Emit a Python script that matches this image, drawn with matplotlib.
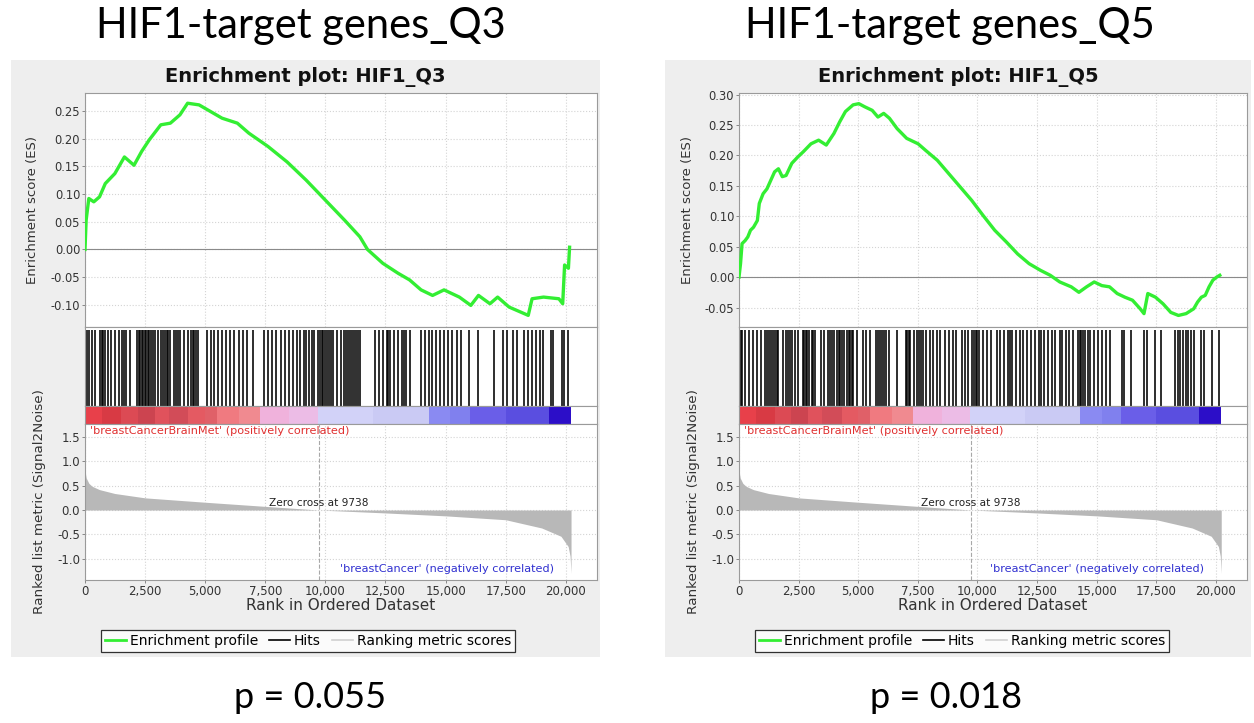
import numpy as np
import matplotlib.pyplot as plt
from matplotlib.lines import Line2D
from matplotlib.patches import Rectangle
from matplotlib.ticker import FuncFormatter

W, H = 1254, 723

# ---------------- data ----------------
titles = ["HIF1-target genes_Q3", "HIF1-target genes_Q5"]
plot_names = ["Enrichment plot: HIF1_Q3", "Enrichment plot: HIF1_Q5"]
p_labels = ["p = 0.055", "p = 0.018"]

q3_es_rank = [0, 48, 159, 366, 605, 844, 1242, 1640, 2038, 2357,
              2675, 3153, 3551, 3949, 4268, 4745, 5223, 5701, 6338, 6815,
              7611, 8408, 9204, 10000, 10796, 11433, 11752, 12389, 13025, 13503,
              13981, 14459, 14936, 15573, 16051, 16369, 16847, 17166, 17643, 18121,
              18439, 18599, 19076, 19713, 19873, 19952, 20111, 20159]
q3_es = [0, 0.053, 0.092, 0.086, 0.095, 0.119, 0.137, 0.167, 0.152, 0.177,
         0.198, 0.225, 0.228, 0.243, 0.264, 0.261, 0.249, 0.237, 0.228, 0.210,
         0.186, 0.158, 0.125, 0.089, 0.053, 0.023, 0.0, -0.025, -0.043, -0.055,
         -0.073, -0.083, -0.073, -0.086, -0.101, -0.083, -0.098, -0.086, -0.104, -0.113,
         -0.119, -0.089, -0.086, -0.089, -0.098, -0.028, -0.034, 0.004]

q5_es_rank = [0, 64, 128, 257, 369, 482, 610, 770, 851, 1011,
              1172, 1332, 1493, 1653, 1814, 1974, 2215, 2456, 2696, 3017,
              3338, 3659, 3980, 4221, 4462, 4783, 5024, 5264, 5585, 5826,
              6067, 6308, 6629, 7030, 7511, 7832, 8314, 8795, 9277, 9758,
              10240, 10721, 11203, 11684, 12166, 12647, 13049, 13450, 13931, 14252,
              14573, 14894, 15215, 15536, 15857, 16178, 16499, 16820, 16981, 17141,
              17462, 17783, 18104, 18425, 18746, 19067, 19228, 19388, 19549, 19709,
              19870, 20030, 20159]
q5_es = [0, 0.022, 0.055, 0.060, 0.066, 0.077, 0.082, 0.093, 0.121, 0.137,
         0.145, 0.159, 0.173, 0.178, 0.165, 0.167, 0.187, 0.197, 0.206, 0.219,
         0.225, 0.217, 0.236, 0.255, 0.272, 0.283, 0.285, 0.280, 0.274, 0.263,
         0.269, 0.261, 0.244, 0.228, 0.219, 0.208, 0.192, 0.170, 0.148, 0.126,
         0.101, 0.077, 0.058, 0.038, 0.022, 0.011, 0.003, -0.008, -0.016, -0.025,
         -0.016, -0.008, -0.014, -0.016, -0.027, -0.033, -0.038, -0.052, -0.060, -0.027,
         -0.033, -0.044, -0.058, -0.063, -0.060, -0.052, -0.041, -0.033, -0.030, -0.016,
         -0.005, 0.0, 0.003]

q3_hits = [0, 80, 159, 287, 414, 637, 700, 764, 844, 971, 1083, 1242, 1401, 1560,
           1640, 1719, 1879,
           2165, 2229, 2292, 2356, 2420, 2484, 2547, 2611, 2675, 2754, 2834, 2913,
           3025, 3152, 3232, 3311, 3391, 3471, 3550, 3709, 3789, 3868, 3948, 4107,
           4267, 4394, 4474, 4553, 4633, 4712,
           5063, 5222, 5381, 5540, 5699, 5859, 6018, 6209, 6416, 6575, 6734, 6973,
           7451, 7610, 7769, 7928, 8167, 8326, 8485, 8645, 8804, 8963, 9122,
           9202, 9313, 9440, 9520, 9679, 9759, 9839, 9918, 9998, 10077, 10157,
           10237, 10316, 10475, 10635, 10794, 10873, 10953, 11032, 11112, 11192,
           11271, 11351, 11430,
           12067, 12226, 12386, 12545, 12625, 12704, 12863, 13022, 13182, 13261,
           13341, 13500,
           13978, 14137, 14296, 14455, 14615, 14774, 14933, 15092, 15251, 15490,
           15649, 15968, 16366,
           17003, 17401, 17560, 17799, 17958, 18276, 18435, 18595, 18754, 18913,
           19072, 19390, 19470, 19836, 19947, 20106]

q5_hits = [0, 64, 128, 257, 417, 578, 738, 931, 1091, 1172, 1252, 1332, 1445,
           1509, 1573, 1653, 1862, 1974, 2054, 2135, 2215, 2343, 2456, 2664, 2729,
           2793, 2857, 2937, 3050, 3114, 3178, 3419, 3579, 3740, 3820, 3900, 3980,
           4109, 4173, 4237, 4301, 4382, 4542, 4606, 4671, 4735, 4783, 4943, 5184,
           5345, 5505, 5746, 5826, 5906, 5986, 6067, 6147, 6308, 6629,
           6998, 7062, 7126, 7190, 7351, 7479, 7544, 7624, 7704, 7832, 7993, 8153,
           8282, 8442, 8635, 8795, 8956, 9116, 9357, 9470, 9598, 9758, 9839, 9919,
           9999, 10079, 10240, 10400, 10561, 10802, 10962, 11123, 11283, 11363,
           11444, 11604, 11765, 11925, 12086, 12246, 12407, 12567, 12647, 12808,
           12968, 13129, 13257, 13450, 13530, 13691, 13851, 14012, 14220, 14285,
           14349, 14413, 14493, 14654, 14734, 14894, 15055, 15215, 15376, 15536,
           16050, 16146, 16419, 16981, 17109, 17430, 17703,
           18297, 18393, 18505, 18618, 18746, 18827, 18939, 19067, 19388, 19517,
           19838, 20111]

# ranked list metric (same data set for both plots)
metric_rank = [0, 20, 50, 160, 290, 600, 1240, 2500, 5000, 7500, 9738,
               12500, 15000, 17500, 19000, 19800, 20100, 20180, 20220]
metric_val = [0.85, 0.75, 0.66, 0.55, 0.49, 0.42, 0.34, 0.25, 0.16, 0.075, 0.0,
              -0.06, -0.12, -0.20, -0.37, -0.54, -0.75, -0.95, -1.3]
zero_cross = 9738

# colour bar of the ranked list, split in bands
band_edges = [0, 700, 1500, 2200, 2900, 3500, 4300, 5000, 5500, 6400, 7300,
              8500, 9700, 12000, 14300, 15200, 16000, 17500, 19300, 20220]
band_colors = ['#e8404a', '#d83a44', '#dc4a54', '#cc4450', '#e0525c', '#d24c58',
               '#e45a62', '#e06068', '#f07a80', '#f08a90', '#f0b2dc', '#ecbce6',
               '#d2d2f8', '#cacaf4', '#8a8af2', '#8080ee', '#6a5ee8', '#5a4ee0',
               '#2c0ec8']

es_ticks = [[-0.10, -0.05, 0.0, 0.05, 0.10, 0.15, 0.20, 0.25],
            [-0.05, 0.0, 0.05, 0.10, 0.15, 0.20, 0.25, 0.30]]
es_limits = [(-0.140, 0.283), (-0.082, 0.303)]
metric_ticks = [-1.0, -0.5, 0.0, 0.5, 1.0, 1.5]
rank_ticks = [0, 2500, 5000, 7500, 10000, 12500, 15000, 17500, 20000]

# ---------------- drawing ----------------
fig = plt.figure(figsize=(W / 100, H / 100), dpi=100)
fig.patch.set_facecolor('white')


def box(x0, y0, x1, y1):
    return [x0 / W, 1 - y1 / H, (x1 - x0) / W, (y1 - y0) / H]


def style(ax):
    for s in ax.spines.values():
        s.set_color('#9a9a9a')
        s.set_linewidth(0.8)
    ax.tick_params(length=2, width=0.6, color='#777777', labelsize=8.3,
                   labelcolor='#333333', pad=1.5)


def panel(i, bg_x0, bg_x1, ax_x0, ax_x1, es_rank, es_val, hits):
    fig.add_artist(Rectangle((bg_x0 / W, 1 - 657 / H), (bg_x1 - bg_x0) / W,
                             (657 - 60) / H, transform=fig.transFigure,
                             facecolor='#eeeeee', edgecolor='none', zorder=0))
    cx = (bg_x0 + bg_x1) / 2
    fig.text(cx / W, 1 - 77 / H, plot_names[i], ha='center', va='center',
             fontsize=14, fontweight='bold', color='#111111')
    xmax = 21300

    # enrichment score
    ax = fig.add_axes(box(ax_x0, 92.7, ax_x1, 327))
    ax.plot(es_rank, es_val, color='#33ee33', lw=2.4, zorder=3)
    ax.axhline(0, color='#8a8a8a', lw=0.8, zorder=2)
    ax.set_xlim(0, xmax)
    ax.set_ylim(*es_limits[i])
    ax.set_yticks(es_ticks[i])
    ax.yaxis.set_major_formatter(FuncFormatter(lambda v, p: f"{v:.2f}"))
    ax.set_xticks(rank_ticks)
    ax.tick_params(axis='x', labelbottom=False, length=0)
    ax.grid(True, color='#d4d4d4', ls=':', lw=0.8)
    style(ax)
    fig.text((ax_x0 - 52) / W, 1 - 210 / H, "Enrichment score (ES)",
             rotation=90, ha='center', va='center', fontsize=9.5, color='#333333')

    # hits
    axh = fig.add_axes(box(ax_x0, 327, ax_x1, 406))
    axh.vlines(hits, 0, 1, color='black', lw=1.15)
    axh.set_xlim(0, xmax)
    axh.set_ylim(0, 1.04)
    axh.set_xticks([])
    axh.set_yticks([])
    style(axh)

    # colour bar of ranked list
    axc = fig.add_axes(box(ax_x0, 406, ax_x1, 424))
    for k in range(len(band_colors)):
        axc.axvspan(band_edges[k], band_edges[k + 1], color=band_colors[k], lw=0)
    axc.set_xlim(0, xmax)
    axc.set_xticks([])
    axc.set_yticks([])
    style(axc)

    # ranked list metric
    axm = fig.add_axes(box(ax_x0, 424, ax_x1, 580))
    axm.fill_between(metric_rank, 0, metric_val, color='#b8b8b8', lw=0, zorder=2)
    axm.axvline(zero_cross, color='#a8a8a8', ls='--', lw=0.8, zorder=3)
    axm.set_xlim(0, xmax)
    axm.set_ylim(-1.44, 1.77)
    axm.set_yticks(metric_ticks)
    axm.yaxis.set_major_formatter(FuncFormatter(lambda v, p: f"{v:.1f}"))
    axm.set_xticks(rank_ticks)
    axm.xaxis.set_major_formatter(FuncFormatter(lambda v, p: f"{int(v):,}"))
    axm.grid(True, color='#d4d4d4', ls=':', lw=0.8)
    style(axm)
    axm.tick_params(labelsize=8.5)
    axm.set_xlabel("Rank in Ordered Dataset", fontsize=11, color='#333333',
                   labelpad=0)
    axm.text(zero_cross, 0.14, "Zero cross at " + str(zero_cross), ha='center',
             va='center', fontsize=7.6, color='#222222')
    axm.text(210, 1.62, "'breastCancerBrainMet' (positively correlated)",
             ha='left', va='center', fontsize=8.1, color='#e03030')
    axm.text(19500, -1.21, "'breastCancer' (negatively correlated)",
             ha='right', va='center', fontsize=8.1, color='#3030d0')
    fig.text((ax_x0 - 45) / W, 1 - 502 / H, "Ranked list metric (Signal2Noise)",
             rotation=90, ha='center', va='center', fontsize=9.7, color='#333333')

    handles = [Line2D([], [], color='#33ee33', lw=2),
               Line2D([], [], color='black', lw=1.2),
               Line2D([], [], color='#d0d0d0', lw=1.2)]
    lx = ax_x0 + 223
    leg = fig.legend(handles, ["Enrichment profile", "Hits", "Ranking metric scores"],
                     loc='center', bbox_to_anchor=(lx / W, 1 - 641 / H), ncol=3,
                     fontsize=10, frameon=True, fancybox=False, handlelength=1.5,
                     handletextpad=0.3, columnspacing=0.8, borderpad=0.3)
    leg.get_frame().set_edgecolor('black')
    leg.get_frame().set_linewidth(0.9)


panel(0, 11, 600, 85, 597, q3_es_rank, q3_es, q3_hits)
panel(1, 665, 1251, 739, 1247, q5_es_rank, q5_es, q5_hits)

for k, cx in enumerate([301, 950]):
    fig.text(cx / W, 1 - 26 / H, titles[k], ha='center', va='center',
             fontsize=30, family='Lato', color='black')
for k, cx in enumerate([310, 946]):
    fig.text(cx / W, 1 - 698 / H, p_labels[k], ha='center', va='center',
             fontsize=26, family='Lato', color='black')

fig.savefig("out.png", dpi=100)
